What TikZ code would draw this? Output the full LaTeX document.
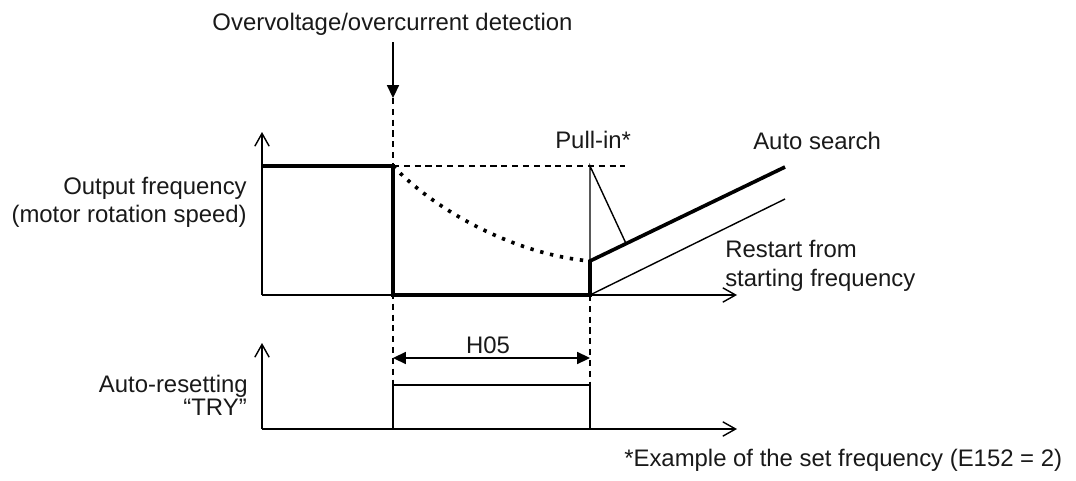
\documentclass[tikz,border=0pt]{standalone}
\usepackage{fontspec}
\setmainfont{Liberation Sans}
\usetikzlibrary{arrows.meta}

\begin{document}
\begin{tikzpicture}[
  x=0.025cm, y=-0.025cm,
  font=\fontsize{17}{21}\selectfont,
  axis/.style={-{Straight Barb[length=3.2mm, width=3.6mm]}, line width=1pt},
  wire/.style={line width=1pt},
  heavy/.style={line width=2.6pt, line join=miter},
  guide/.style={dash pattern=on 4.3pt off 3.4pt, line width=1pt},
  coast/.style={line width=2.6pt, dash pattern=on 2.4pt off 4.8pt},
  pointer/.style={-{Triangle[length=3.2mm, width=3mm]}, line width=1pt},
  span/.style={{Triangle[length=3.2mm, width=3mm]}-{Triangle[length=3.2mm, width=3mm]}, line width=1pt},
  lbl/.style={inner sep=0pt, text=black!90},
]
  \useasboundingbox (0,0) rectangle (1076,480);

  % frequency chart
  \coordinate (fo) at (262,295);
  \coordinate (fy) at (262,132);
  \coordinate (fx) at (737,295);
  \coordinate (hi) at (262,166);
  \coordinate (trip) at (393,166);
  \coordinate (tripb) at (393,295);
  \coordinate (rest) at (590,295);
  \coordinate (pull) at (590,166);
  \coordinate (catch) at (590,261);
  \coordinate (srch) at (785,167);
  \coordinate (strt) at (785,199);
  \coordinate (knee) at (626,243.5);
  \coordinate (dh) at (625,166);

  % try chart
  \coordinate (to) at (262,429);
  \coordinate (ty) at (262,343);
  \coordinate (tx) at (737,429);
  \coordinate (ton) at (393,385);
  \coordinate (toff) at (590,385);
  \coordinate (tonb) at (393,429);
  \coordinate (toffb) at (590,429);

  % detection marker
  \coordinate (dsrc) at (393,42);
  \coordinate (dhit) at (393,98);

  \draw[axis] (fo) -- (fy);
  \draw[axis] (fo) -- (fx);
  \draw[axis] (to) -- (ty);
  \draw[axis] (to) -- (tx);

  \draw[guide] (trip) -- (dh);
  \draw[guide] (dhit) -- (ton);
  \draw[guide] (rest) -- (toff);
  \draw[pointer] (dsrc) -- (dhit);

  \draw[coast] (trip) .. controls (440,215) and (520,255) .. (catch);
  \draw[heavy] (hi) -- (trip) -- (tripb) -- (rest) -- (catch) -- (srch);
  \draw[wire] (rest) -- (strt);
  \draw[wire] (catch) -- (pull) -- (knee);

  \draw[wire] (tonb) -- (ton) -- (toff) -- (toffb);
  \draw[span] (393,358) -- (590,358);

  \node[lbl, anchor=base] (det) at (392.5,30) {Overvoltage/overcurrent detection};
  \node[lbl, anchor=base east] (fq1) at (247,194) {Output frequency};
  \node[lbl, anchor=base east] (fq2) at (247,222) {(motor rotation speed)};
  \node[lbl, anchor=base east] (tr1) at (248,392) {Auto-resetting};
  \node[lbl, anchor=base east] (tr2) at (247,415) {“TRY”};
  \node[lbl, anchor=base west] (pin) at (555,148) {Pull-in*};
  \node[lbl, anchor=base west] (as) at (753,149) {Auto search};
  \node[lbl, anchor=base west] (rs1) at (725,257) {Restart from};
  \node[lbl, anchor=base west] (rs2) at (725,286) {starting frequency};
  \node[lbl, anchor=base] (h05) at (488,353) {H05};
  \node[lbl, anchor=base west] (note) at (624,466) {*Example of the set frequency (E152 = 2)};
\end{tikzpicture}
\end{document}
